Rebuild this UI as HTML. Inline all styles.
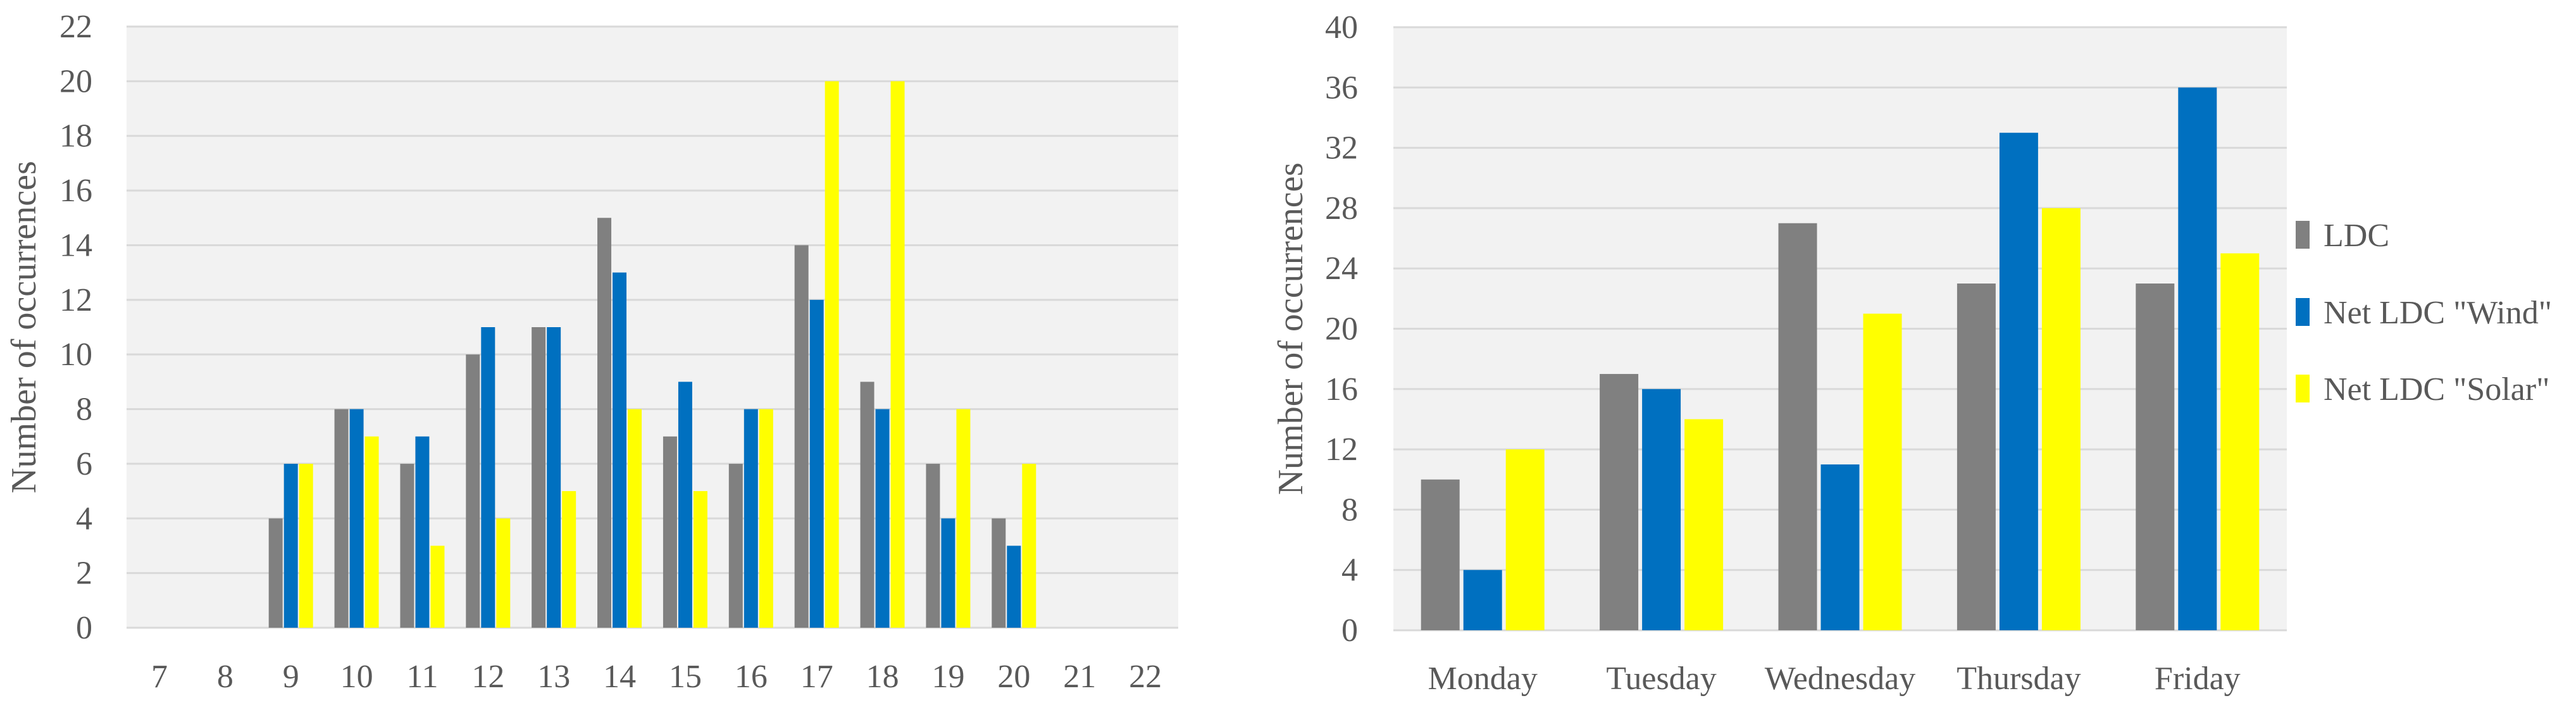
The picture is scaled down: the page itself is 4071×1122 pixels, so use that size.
<!DOCTYPE html>
<html><head><meta charset="utf-8"><style>
html,body{margin:0;padding:0;background:#fff;}
svg{display:block;}
svg text{font-family:"Liberation Serif",serif;}
</style></head><body>
<svg id="c" width="4071" height="1122" viewBox="0 0 4071 1122" xmlns="http://www.w3.org/2000/svg"></svg>
<script>
const hours = ["7","8","9","10","11","12","13","14","15","16","17","18","19","20","21","22"];
const hourLDC   = [0,0,4,8,6,10,11,15,7,6,14,9,6,4,0,0];
const hourWind  = [0,0,6,8,7,11,11,13,9,8,12,8,4,3,0,0];
const hourSolar = [0,0,6,7,3,4,5,8,5,8,20,20,8,6,0,0];
const hourTicks = [0,2,4,6,8,10,12,14,16,18,20,22];

const days = ["Monday","Tuesday","Wednesday","Thursday","Friday"];
const dayLDC   = [10,17,27,23,23];
const dayWind  = [4,16,11,33,36];
const daySolar = [12,14,21,28,25];
const dayTicks = [0,4,8,12,16,20,24,28,32,36,40];
const seriesNames = ["LDC","Net LDC \"Wind\"","Net LDC \"Solar\""];

const NS="http://www.w3.org/2000/svg";
const svg=document.getElementById('c');
const colors=["#808080","#0070c0","#ffff00"];
const FF='"Liberation Serif", serif';
function mk(tag,attrs,parent){const e=document.createElementNS(NS,tag);for(const k in attrs)e.setAttribute(k,attrs[k]);(parent||svg).appendChild(e);return e;}

function chart(o){
  const g=mk('g',{});
  
  
  const bg=mk('rect',{x:o.x0,y:o.yTop,width:o.x1-o.x0,height:o.yBot-o.yTop,fill:'#f2f2f2'},g);
  
  
  const max=o.ticks[o.ticks.length-1];
  const y=v=>o.yBot-(v/max)*(o.yBot-o.yTop);
  o.ticks.forEach(t=>{
    const l=mk('line',{x1:o.x0,x2:o.x1,y1:y(t),y2:y(t),stroke:'#d9d9d9','stroke-width':3},g);
    
    
    const tx=mk('text',{x:o.tickX,y:y(t)+17,'text-anchor':'end','font-size':52,'font-family':FF,fill:'#595959'},g);
    tx.textContent=t;
    
    
  });
  const n=o.cats.length, cw=(o.x1-o.x0)/n;
  const x=i=>o.x0+cw*(i+0.5);
  o.series.forEach((s,si)=>{
    s.forEach((v,i)=>{
      if(v<=0)return;
      const bx=x(i)-o.groupW/2+si*(o.barW+o.gap);
      const r=mk('rect',{x:bx,y:y(v),width:o.barW,height:y(0)-y(v),fill:colors[si]},g);
      
      
    });
  });
  o.cats.forEach((c,i)=>{
    const t=mk('text',{x:x(i),y:o.labY,'text-anchor':'middle','font-size':52,'font-family':FF,fill:'#595959'},g);
    t.textContent=c;
    
    
  });
  const cy=(o.yTop+o.yBot)/2;
  const tt=mk('text',{x:o.titleX,y:cy,'text-anchor':'middle','font-size':56,'font-family':FF,fill:'#595959',transform:`rotate(-90 ${o.titleX} ${cy})`,dy:18},g);
  tt.textContent="Number of occurrences";
  
  
}

chart({name:'hourly-chart',x0:200,x1:1862,yTop:42,yBot:992,ticks:hourTicks,cats:hours,series:[hourLDC,hourWind,hourSolar],barW:22,gap:2,groupW:70,labY:1086,tickX:146,titleX:38});
chart({name:'weekday-chart',x0:2202,x1:3614,yTop:43,yBot:996,ticks:dayTicks,cats:days,series:[dayLDC,dayWind,daySolar],barW:61,gap:6,groupW:195,labY:1089,tickX:2146,titleX:2040});

const lg=mk('g',{});


const ly=[371,493,614];
seriesNames.forEach((n,i)=>{
  const r=mk('rect',{x:3628,y:ly[i]-22,width:22,height:44,fill:colors[i]},lg);
  
  
  const t=mk('text',{x:3672,y:ly[i]+18,'font-size':52,'font-family':FF,fill:'#595959'},lg);
  t.textContent=n;
  
  
});
</script>
</body></html>
